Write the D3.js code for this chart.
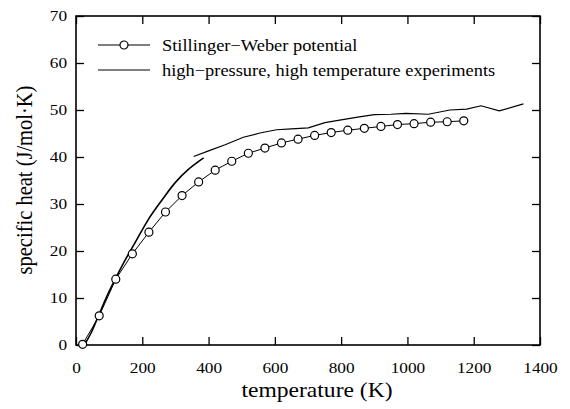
<!DOCTYPE html>
<html>
<head>
<meta charset="utf-8">
<script src="https://cdn.jsdelivr.net/npm/d3@7"></script>
<style>
  body { margin: 0; background: #fff; }
</style>
</head>
<body>
<div id="chart"></div>
<script>
// Stillinger-Weber simulation (circles)
var swTemp = [20, 70, 120, 170, 220, 270, 320, 370, 420, 470, 520, 570,
              620, 670, 720, 770, 820, 870, 920, 970, 1020, 1070, 1120, 1170];
var swHeat = [0.15, 6.2, 14.0, 19.4, 24.0, 28.3, 31.8, 34.7, 37.2, 39.1, 40.8, 41.9,
              43.0, 43.8, 44.6, 45.2, 45.7, 46.1, 46.5, 46.9, 47.1, 47.4, 47.5, 47.7];

// experiments, low temperature part
var expLowTemp = [25, 45, 70, 100, 140, 180, 220, 260, 300, 340, 385];
var expLowHeat = [0, 2.5, 6.6, 11.4, 17.0, 22.0, 26.9, 30.9, 34.6, 37.4, 39.8];

// experiments, high pressure / high temperature part
var expHighTemp = [355, 400, 450, 505, 555, 605, 650, 701, 751, 800, 850, 900,
                   950, 995, 1063, 1128, 1179, 1222, 1277, 1350];
var expHighHeat = [40.1, 41.3, 42.6, 44.2, 45.1, 45.8, 46.0, 46.2, 47.3, 47.9, 48.5, 49.0,
                   49.1, 49.3, 49.1, 50.0, 50.2, 50.9, 49.8, 51.3];

var xTicks = [0, 200, 400, 600, 800, 1000, 1200, 1400];
var yTicks = [0, 10, 20, 30, 40, 50, 60, 70];
var legendLabels = ["Stillinger\u2212Weber potential", "high\u2212pressure, high temperature experiments"];

var W = 570, H = 409;
var margin = {top: 16, right: 30, bottom: 64, left: 76};
var width = W - margin.left - margin.right,
    height = H - margin.top - margin.bottom;
var stretch = 1.15;
var serif = "'Liberation Serif'";

var svg = d3.select("#chart").append("svg")
    .attr("width", W)
    .attr("height", H);

var g = svg.append("g")
    .attr("transform", "translate(" + margin.left + "," + margin.top + ")");

var x = d3.scaleLinear().domain([0, 1400]).range([0, width]);
var y = d3.scaleLinear().domain([0, 70]).range([height, 0]);

// axes, ticks pointing inwards on all four sides
var gx = g.append("g")
    .attr("transform", "translate(0," + height + ")")
    .call(d3.axisBottom(x).tickValues(xTicks).tickFormat(d3.format("d"))
        .tickSizeInner(-8).tickSizeOuter(0).tickPadding(17));
gx.selectAll("text")
    .attr("transform", "scale(" + stretch + ",1)");

var gy = g.append("g")
    .call(d3.axisLeft(y).tickValues(yTicks).tickSizeInner(-8).tickSizeOuter(0).tickPadding(9));
gy.selectAll("text")
    .attr("x", -9 / stretch)
    .attr("transform", "scale(" + stretch + ",1)");

[gx, gy].forEach(function (a) {
    a.attr("font-family", null).attr("font-size", null);
    a.selectAll("text")
        .style("font-family", serif)
        .style("font-size", "15px")
        .style("fill", "#000");
});

g.append("g")
    .call(d3.axisTop(x).tickValues(xTicks).tickSizeInner(-8).tickSizeOuter(0).tickFormat(""));
g.append("g")
    .attr("transform", "translate(" + width + ",0)")
    .call(d3.axisRight(y).tickValues(yTicks).tickSizeInner(-8).tickSizeOuter(0).tickFormat(""));

g.selectAll(".domain").remove();
g.selectAll(".tick line").attr("stroke", "#000").attr("stroke-width", 1.3);

g.append("rect")
    .attr("width", width)
    .attr("height", height)
    .attr("fill", "none")
    .attr("stroke", "#000")
    .attr("stroke-width", 1.6);

// axis titles
svg.append("text")
    .attr("transform", "translate(317,397) scale(" + stretch + ",1)")
    .attr("text-anchor", "middle")
    .style("font-family", serif)
    .style("font-size", "20.5px")
    .text("temperature (K)");

svg.append("text")
    .attr("transform", "translate(32,180) rotate(-90) scale(1," + stretch + ")")
    .attr("text-anchor", "middle")
    .style("font-family", serif)
    .style("font-size", "20.5px")
    .text("specific heat (J/mol\u00b7K)");

// lines
var zip = function (xs, ys) {
    return xs.map(function (d, i) { return [d, ys[i]]; });
};
var swData = zip(swTemp, swHeat);

var line = d3.line()
    .x(function (d) { return x(d[0]); })
    .y(function (d) { return y(d[1]); });

g.append("path")
    .datum(zip(expLowTemp, expLowHeat))
    .attr("fill", "none")
    .attr("stroke", "#000")
    .attr("stroke-width", 1.6)
    .attr("d", line.curve(d3.curveCatmullRom));

g.append("path")
    .datum(zip(expHighTemp, expHighHeat))
    .attr("fill", "none")
    .attr("stroke", "#000")
    .attr("stroke-width", 1.2)
    .attr("d", line.curve(d3.curveLinear));

g.append("path")
    .datum(swData)
    .attr("fill", "none")
    .attr("stroke", "#000")
    .attr("stroke-width", 1)
    .attr("d", line);

g.selectAll(".sw")
    .data(swData)
    .enter()
    .append("circle")
    .attr("class", "sw")
    .attr("cx", function (d) { return x(d[0]); })
    .attr("cy", function (d) { return y(d[1]); })
    .attr("r", 4)
    .attr("fill", "#fff")
    .attr("stroke", "#000")
    .attr("stroke-width", 1.2);

// legend
var legend = svg.append("g").attr("transform", "translate(98,45)");
legendLabels.forEach(function (lab, i) {
    var row = legend.append("g").attr("transform", "translate(0," + i * 25 + ")");
    row.append("line")
        .attr("x1", 0).attr("x2", 52)
        .attr("stroke", "#000").attr("stroke-width", 1.2);
    if (i === 0) {
        row.append("circle")
            .attr("cx", 26).attr("r", 4)
            .attr("fill", "#fff").attr("stroke", "#000").attr("stroke-width", 1.2);
    }
    row.append("text")
        .attr("transform", "translate(64,6) scale(" + stretch + ",1)")
        .style("font-family", serif)
        .style("font-size", "16px")
        .text(lab);
});
</script>
</body>
</html>
